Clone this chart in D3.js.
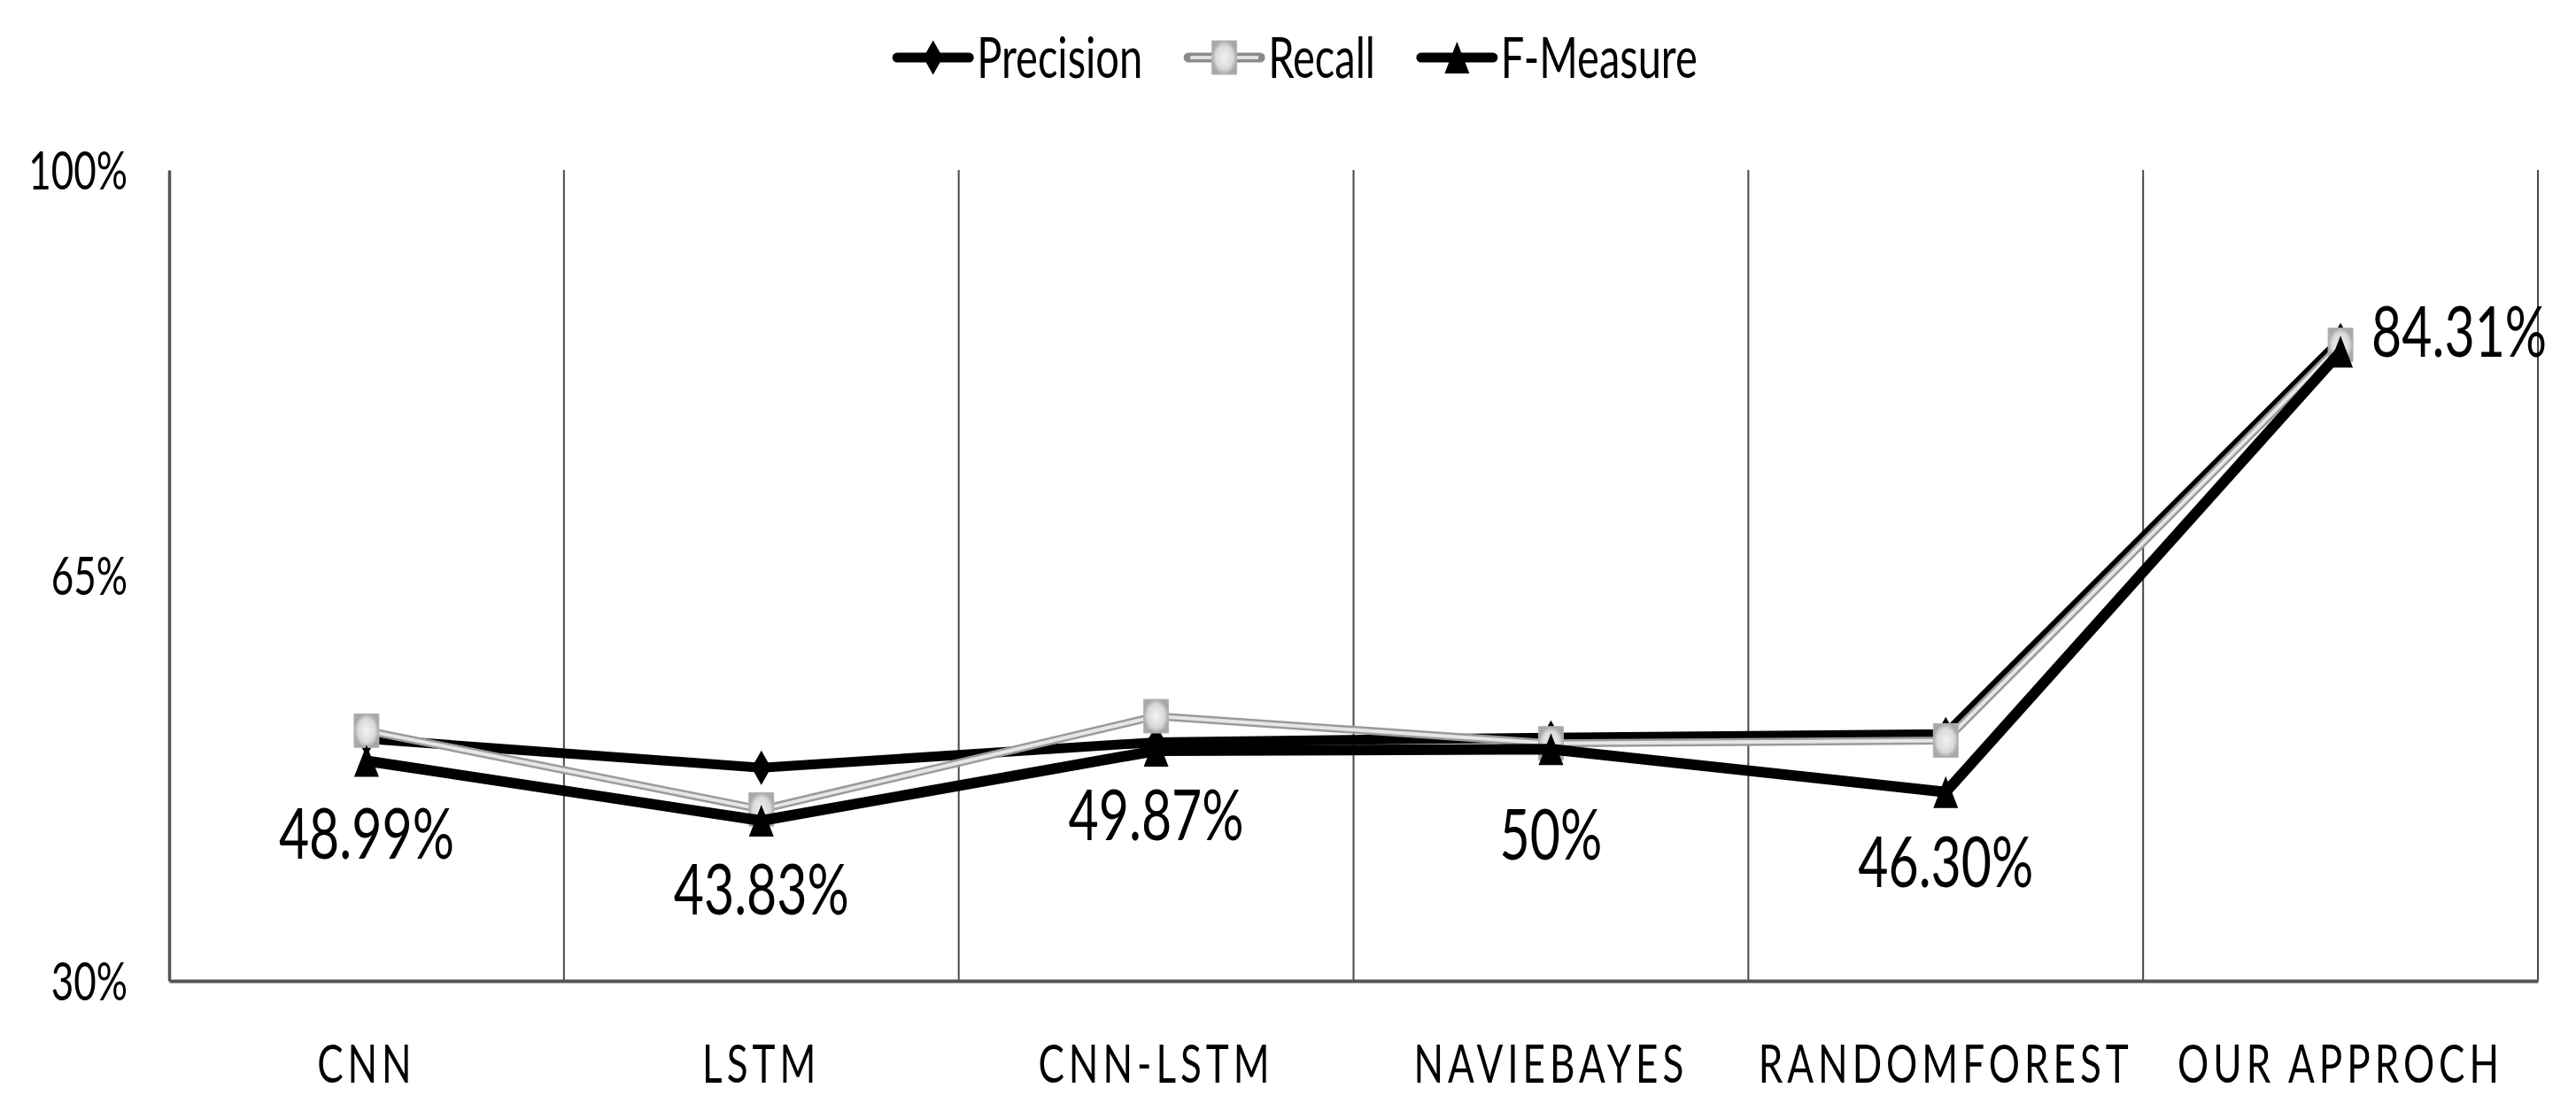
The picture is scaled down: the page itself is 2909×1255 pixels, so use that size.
<!DOCTYPE html>
<html>
<head>
<meta charset="utf-8">
<script src="https://cdn.jsdelivr.net/npm/d3@7"></script>
<style>
  body { margin: 0; background: #fff; }
  text { font-family: Lato, "Open Sans", sans-serif; fill: #000; }
</style>
</head>
<body>
<script>
const width = 2909
const height = 1255

// chart data
const categories = ["CNN", "LSTM", "CNN-LSTM", "NAVIEBAYES", "RANDOMFOREST", "OUR APPROCH"];
const precision = [50.9, 48.4, 50.6, 51.0, 51.3, 85.3];
const recall = [51.6, 44.8, 52.85, 50.5, 50.75, 84.9];
const fMeasure = [48.99, 43.83, 49.87, 50, 46.30, 84.31];
const fLabels = ["48.99%", "43.83%", "49.87%", "50%", "46.30%", "84.31%"];
const yTicks = [30, 65, 100];
const seriesNames = ["Precision", "Recall", "F-Measure"];

const margin = {top: 192, right: 43, bottom: 147, left: 191};
// the source picture is stretched vertically, so all text is too
const SY = 1.35;
// labels were dragged a little in the original; vertical nudge under each point
const labelDy = [82, 77, 72, 96, 79];

const svg = d3.select("body").append("svg")
    .attr("width", width)
    .attr("height", height);

// gradient for the grey square markers
const defs = svg.append("defs");
const grad = defs.append("radialGradient").attr("id", "sq");
grad.append("stop").attr("offset", "0%").attr("stop-color", "#f2f2f2");
grad.append("stop").attr("offset", "70%").attr("stop-color", "#d9d9d9");
grad.append("stop").attr("offset", "100%").attr("stop-color", "#a8a8a8");

const x = d3.scaleBand()
    .domain(categories)
    .range([margin.left, width - margin.right]);

const y = d3.scaleLinear()
    .domain([30, 100])
    .range([height - margin.bottom, margin.top]);

const cx = i => x(categories[i]) + x.bandwidth() / 2;

// vertical separators between categories
svg.append("g")
    .selectAll("line")
    .data(categories)
    .enter()
    .append("line")
    .attr("x1", d => x(d) + x.bandwidth())
    .attr("x2", d => x(d) + x.bandwidth())
    .attr("y1", y(30))
    .attr("y2", y(100))
    .attr("stroke", "#4a4a4a")
    .attr("stroke-width", 2);

// y axis
const yAxis = svg.append("g")
    .attr("transform", `translate(${margin.left},0)`)
    .call(d3.axisLeft(y).tickValues(yTicks).tickSize(0).tickSizeOuter(0).tickPadding(47).tickFormat(d => d + "%"));
yAxis.select(".domain").attr("stroke", "#555").attr("stroke-width", 3.5);
yAxis.selectAll("text")
    .style("font-family", "Lato, sans-serif")
    .attr("font-size", 44)
    .attr("dy", "0.36em")
    .attr("transform", `scale(1,${SY})`);

// x axis
const xAxis = svg.append("g")
    .attr("transform", `translate(0,${y(30)})`)
    .call(d3.axisBottom(x).tickSize(0).tickSizeOuter(0));
xAxis.select(".domain").attr("stroke", "#555").attr("stroke-width", 4);
xAxis.selectAll("text")
    .style("font-family", "Lato, sans-serif")
    .attr("font-size", 44)
    .attr("letter-spacing", 5)
    .attr("y", 0)
    .attr("dy", "0.36em")
    .attr("transform", `translate(0,94) scale(1,${SY})`);

// marker shapes
function diamond(w, h) {
    return `M0,${-h / 2}L${w / 2},0L0,${h / 2}L${-w / 2},0Z`;
}
function square(w, h) {
    return `M${-w / 2},${-h / 2}H${w / 2}V${h / 2}H${-w / 2}Z`;
}
function triangle(w, h) {
    return `M0,${-h / 2}L${w / 2},${h / 2}H${-w / 2}Z`;
}

const line = d3.line()
    .x((d, i) => cx(i))
    .y(d => y(d));

// Precision
svg.append("path")
    .attr("d", line(precision))
    .attr("fill", "none")
    .attr("stroke", "#000")
    .attr("stroke-width", 11)
    .attr("stroke-linejoin", "round");
svg.append("g").selectAll("path")
    .data(precision)
    .enter()
    .append("path")
    .attr("d", diamond(22, 39))
    .attr("transform", (d, i) => `translate(${cx(i)},${y(d)})`)
    .attr("fill", "#000");

// Recall
svg.append("path")
    .attr("d", line(recall))
    .attr("fill", "none")
    .attr("stroke", "#9a9a9a")
    .attr("stroke-width", 9)
    .attr("stroke-linejoin", "round");
svg.append("path")
    .attr("d", line(recall))
    .attr("fill", "none")
    .attr("stroke", "#e6e6e6")
    .attr("stroke-width", 4)
    .attr("stroke-linejoin", "round");
svg.append("g").selectAll("path")
    .data(recall)
    .enter()
    .append("path")
    .attr("d", square(28, 38))
    .attr("transform", (d, i) => `translate(${cx(i)},${y(d)})`)
    .attr("fill", "url(#sq)")
    .attr("stroke", "#b5b5b5")
    .attr("stroke-width", 1);

// F-Measure
svg.append("path")
    .attr("d", line(fMeasure))
    .attr("fill", "none")
    .attr("stroke", "#000")
    .attr("stroke-width", 12)
    .attr("stroke-linejoin", "round");
svg.append("g").selectAll("path")
    .data(fMeasure)
    .enter()
    .append("path")
    .attr("d", triangle(28, 36))
    .attr("transform", (d, i) => `translate(${cx(i)},${y(d)})`)
    .attr("fill", "#000");

// F-Measure value labels: below the point, last one to the right
const last = fMeasure.length - 1;
svg.append("g").selectAll("text")
    .data(fMeasure)
    .enter()
    .append("text")
    .attr("transform", (d, i) => i === last
        ? `translate(${cx(i) + 35},${y(d) - 23}) scale(1,${SY})`
        : `translate(${cx(i)},${y(d) + labelDy[i]}) scale(1,${SY})`)
    .attr("text-anchor", (d, i) => i === last ? "start" : "middle")
    .attr("dy", "0.36em")
    .attr("font-size", 59)
    .text((d, i) => fLabels[i]);

// legend
const legend = svg.append("g").attr("transform", "translate(0,65)");
const markerFns = [diamond(22, 39), square(28, 38), triangle(28, 36)];
const items = legend.selectAll("g")
    .data(seriesNames)
    .enter()
    .append("g");

items.append("text")
    .attr("x", 90)
    .attr("dy", "0.36em")
    .attr("font-size", 47)
    .attr("transform", `scale(1,${SY})`)
    .text(d => d);

items.each(function(d, i) {
    const g = d3.select(this);
    if (i === 1) {
        g.append("line").attr("x1", 0).attr("x2", 81)
            .attr("stroke", "#8a8a8a").attr("stroke-width", 11).attr("stroke-linecap", "round");
        g.append("line").attr("x1", 2).attr("x2", 79)
            .attr("stroke", "#e0e0e0").attr("stroke-width", 4);
    } else {
        g.append("line").attr("x1", 0).attr("x2", 81)
            .attr("stroke", "#000").attr("stroke-width", 11).attr("stroke-linecap", "round");
    }
    g.append("path")
        .attr("d", markerFns[i])
        .attr("transform", "translate(40.5,0)")
        .attr("fill", i === 1 ? "url(#sq)" : "#000")
        .attr("stroke", i === 1 ? "#b5b5b5" : "none");
});

// lay the legend items out side by side, centred
let offset = 0;
const widths = [];
items.each(function() {
    const w = 90 + d3.select(this).select("text").node().getComputedTextLength();
    widths.push(w);
});
const gap = 52;
const total = d3.sum(widths) + gap * (widths.length - 1);
let start = 1465 - total / 2;
items.attr("transform", (d, i) => {
    const t = `translate(${start + offset},0)`;
    offset += widths[i] + gap;
    return t;
});
</script>
</body>
</html>
